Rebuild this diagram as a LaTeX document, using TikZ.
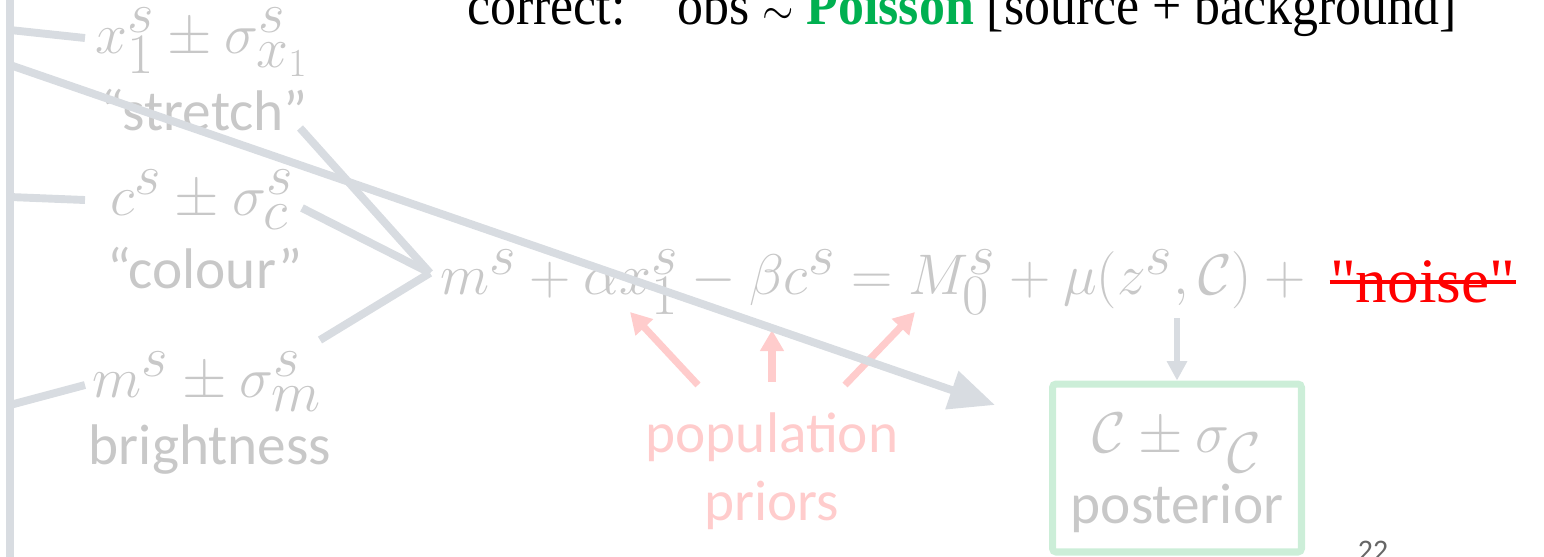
\documentclass[tikz,border=0pt]{standalone}
\usepackage{fontspec}
\usepackage{graphicx}
\setmainfont{Carlito}
\newfontfamily\headfont{Liberation Serif}
\usetikzlibrary{positioning, calc, arrows.meta}

\definecolor{txtgray}{RGB}{200,200,200}
\definecolor{linegray}{RGB}{216,220,225}
\definecolor{priorpink}{RGB}{255,204,204}
\definecolor{postgreen}{RGB}{204,238,216}
\definecolor{poissongreen}{RGB}{0,176,80}
%% math at large sizes is capped, so scale it up
\newcommand{\mth}[1]{\scalebox{1.31}{$#1$}}

\begin{document}
\begin{tikzpicture}[x=0.02cm, y=-0.02cm,
  %% grey labels
  lbl/.style={text=txtgray, font=\fontsize{32.6}{38.6}\selectfont,
    inner sep=0pt, align=center},
  %% connectors
  conn/.style={draw=linegray, line width=4.5pt},
  bigarr/.style={conn, -{Triangle[length=26pt,width=22pt]}},
  downarr/.style={draw=linegray, line width=3pt,
    -{Triangle[length=11pt,width=11pt]}},
  priorarr/.style={draw=priorpink, line width=4pt,
    -{Triangle[length=12pt,width=13pt]}},
  %% posterior box
  postbox/.style={draw=postgreen, line width=4pt, rounded corners=2pt,
    minimum width=4.98cm, minimum height=3.36cm, inner sep=0pt}
]
\clip (0,0) rectangle (1544,556);

%% ================================================================
%% HEADLINE
%% ================================================================
\node[anchor=base, inner sep=0pt] (headline) at (962,24) {%
  \resizebox{19.8cm}{\height}{\headfont\fontsize{32}{36}\selectfont
    correct:\quad obs $\sim$
    \textcolor{poissongreen}{\textbf{Poisson}} [source + background]}};

%% ================================================================
%% MEASURED QUANTITIES (left)
%% ================================================================
\coordinate (trunktop) at (10,-20);
\coordinate (trunkbot) at (10,580);
\draw[conn] (trunktop) -- (trunkbot);

\node[lbl] (xone) at (202,42) {\mth{x_1^s \pm \sigma_{x_1}^s}};
\node[lbl] (stretch) at (204,110) {“stretch”};
\node[lbl] (cee) at (202,200) {\mth{c^s \pm \sigma_c^s}};
\node[lbl] (colour) at (205,268) {“colour”};
\node[lbl] (emm) at (207,382) {\mth{m^s \pm \sigma_m^s}};
\node[lbl] (bright) at (210,450) {brightness};

\coordinate (tx) at (10,30);
\coordinate (tc) at (10,197);
\coordinate (tm) at (10,405);
\coordinate (tarr) at (10,65);
\coordinate (ex) at (85,38);
\coordinate (ec) at (85,200);
\coordinate (em) at (85,385);
\draw[conn] (tx) -- (ex);
\draw[conn] (tc) -- (ec);
\draw[conn] (tm) -- (em);

%% ================================================================
%% EQUATION
%% ================================================================
\node[lbl, anchor=west] (eqn) at (440,282)
  {\mth{m^s + \alpha x_1^s - \beta c^s = M_0^s + \mu(z^s,\mathcal{C}) +{}}};
\node[lbl, text=red, font=\fontsize{36}{40}\selectfont,
      right=6pt of eqn.east, anchor=west]
  (noise) {\headfont"noise"};
\draw[red, line width=2.6pt] (noise.west) -- (noise.east);

\coordinate (join) at (430,273);
\coordinate (fromstretch) at (300,128);
\coordinate (fromcee) at (302,208);
\coordinate (fromemm) at (320,340);
\draw[conn] (fromstretch) -- (join);
\draw[conn] (fromcee) -- (join);
\draw[conn] (fromemm) -- (join);

%% ================================================================
%% POPULATION PRIORS
%% ================================================================
\node[lbl, text=priorpink] (priors) at (772,471) {population\\priors};

\coordinate (pa) at (698,385);
\coordinate (pb) at (772,382);
\coordinate (pc) at (845,385);
\coordinate (ta) at (630,312);
\coordinate (tb) at (772,330);
\coordinate (tc2) at (915,312);
\draw[priorarr] (pa) -- (ta);
\draw[priorarr] (pb) -- (tb);
\draw[priorarr] (pc) -- (tc2);

%% ================================================================
%% POSTERIOR
%% ================================================================
\node[postbox] (post) at (1177,468) {};
\node[lbl] (postmath) at (1177,443) {\mth{\mathcal{C} \pm \sigma_{\mathcal{C}}}};
\node[lbl] (posttext) at (1177,508) {posterior};

\coordinate (belowmu) at (1177,318);
\draw[downarr] (belowmu) -- (post.north);

%% long arrow across
\coordinate (arrtip) at (995,405);
\draw[bigarr] (tarr) -- (arrtip);

%% page number
\node[anchor=north, inner sep=0pt, text=black!60,
      font=\fontsize{17}{20}\selectfont] (pagenum) at (1373,541) {22};

\end{tikzpicture}
\end{document}
